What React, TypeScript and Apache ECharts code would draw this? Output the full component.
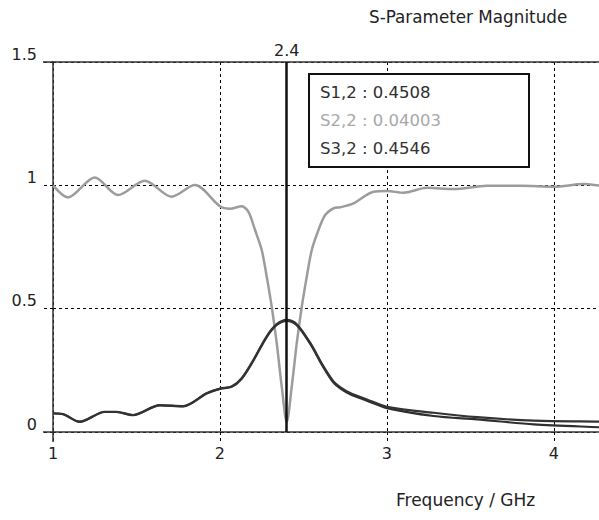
import React, { useEffect, useRef } from "react";
import * as echarts from "echarts";

// S2,2 (grey)
const s22Freq = [1.0, 1.09, 1.25, 1.39, 1.55, 1.71, 1.85, 2.0, 2.06, 2.13, 2.17, 2.21, 2.25, 2.28, 2.31, 2.34, 2.37, 2.4, 2.43, 2.46, 2.49, 2.52, 2.55, 2.59, 2.63, 2.68, 2.72, 2.8, 2.92, 3.0, 3.1, 3.24, 3.4, 3.6, 3.8, 4.0, 4.18, 4.3, 4.39];
const s22Val = [1.0, 0.951, 1.032, 0.961, 1.019, 0.954, 1.001, 0.915, 0.905, 0.915, 0.893, 0.819, 0.738, 0.63, 0.508, 0.36, 0.184, 0.04, 0.184, 0.36, 0.508, 0.63, 0.738, 0.819, 0.88, 0.907, 0.911, 0.927, 0.974, 0.977, 0.97, 0.99, 0.985, 0.998, 0.998, 0.994, 1.005, 0.998, 0.998];

// S1,2 and S3,2 (dark)
const darkFreq = [1.0, 1.06, 1.16, 1.31, 1.38, 1.48, 1.64, 1.78, 1.92, 2.0, 2.07, 2.13, 2.2, 2.28, 2.34, 2.4, 2.46, 2.54, 2.62, 2.68, 2.72, 2.78, 2.88, 3.0, 3.28, 3.54, 3.88, 4.28, 4.39];
const s32Val = [0.076, 0.073, 0.042, 0.082, 0.082, 0.069, 0.109, 0.105, 0.157, 0.176, 0.184, 0.218, 0.292, 0.388, 0.437, 0.4546, 0.437, 0.362, 0.266, 0.205, 0.182, 0.158, 0.132, 0.102, 0.078, 0.06, 0.046, 0.042, 0.041];
const s12Val = [0.075, 0.072, 0.041, 0.081, 0.081, 0.068, 0.108, 0.104, 0.156, 0.175, 0.183, 0.216, 0.289, 0.385, 0.434, 0.4508, 0.433, 0.358, 0.262, 0.2, 0.177, 0.153, 0.127, 0.097, 0.065, 0.051, 0.031, 0.019, 0.016];

const markerFreq = 2.4;
const legendNames = ["S1,2", "S2,2", "S3,2"];
const legendValues = ["0.4508", "0.04003", "0.4546"];
const xTicks = [1, 2, 3, 4];
const yTicks = [0, 0.5, 1, 1.5];

const FONT = "DejaVu Sans";
const DARK1 = "#2e2e2e";
const DARK3 = "#333333";
const GREY = "#9c9c9c";

export default function App() {
  const ref = useRef<HTMLDivElement>(null);
  useEffect(() => {
    if (!ref.current) return;
    const chart = echarts.init(ref.current, null, { renderer: "svg" });
    const pairs = (f: number[], v: number[]) => f.map((x, i) => [x, v[i]]);
    const dash = { type: [3, 3] as any, color: "#000", width: 1 };
    chart.setOption({
      animation: false,
      backgroundColor: "#fff",
      title: [
        {
          text: "S-Parameter Magnitude",
          left: 369,
          top: 8,
          padding: 0,
          textStyle: { fontFamily: FONT, fontSize: 16.8, fontWeight: "normal", color: "#222" },
        },
        {
          text: "Frequency / GHz",
          left: 396,
          top: 491,
          padding: 0,
          textStyle: { fontFamily: FONT, fontSize: 17, fontWeight: "normal", color: "#222" },
        },
      ],
      grid: { left: 53, top: 62, height: 370, width: 566, containLabel: false },
      xAxis: [
        {
          type: "value",
          min: 1,
          max: 4.39,
          interval: 1,
          axisLine: { show: true, lineStyle: { color: "#333", width: 1.5 } },
          axisTick: { show: true, length: 10, inside: false, lineStyle: dash },
          axisLabel: {
            margin: 13,
            fontFamily: FONT,
            fontSize: 16,
            color: "#222",
            formatter: (v: number) => (xTicks.includes(v) ? String(v) : ""),
          },
          splitLine: { show: true, lineStyle: dash },
        },
        {
          type: "value",
          position: "top",
          min: 1,
          max: 4.39,
          interval: 1,
          axisLine: { show: true, onZero: false, lineStyle: { color: "#333", width: 1.5 } },
          axisTick: { show: false },
          axisLabel: { show: false },
          splitLine: { show: false },
        },
      ],
      yAxis: {
        type: "value",
        min: 0,
        max: 1.5,
        interval: 0.5,
        axisLine: { show: true, lineStyle: { color: "#333", width: 1.5 } },
        axisTick: { show: true, length: 10, inside: false, lineStyle: dash },
        axisLabel: {
          margin: 16,
          fontFamily: FONT,
          fontSize: 16,
          color: "#222",
          verticalAlign: "bottom",
          lineHeight: 16,
          formatter: (v: number) => (yTicks.includes(v) ? String(v) : ""),
        },
        splitLine: { show: true, lineStyle: dash },
      },
      series: [
        {
          name: "S2,2",
          type: "line",
          data: pairs(s22Freq, s22Val),
          showSymbol: false,
          smooth: 0.3,
          lineStyle: { color: GREY, width: 2.5 },
          z: 3,
        },
        {
          name: "S1,2",
          type: "line",
          data: pairs(darkFreq, s12Val),
          showSymbol: false,
          smooth: 0.3,
          lineStyle: { color: DARK1, width: 2.2 },
          z: 4,
        },
        {
          name: "S3,2",
          type: "line",
          data: pairs(darkFreq, s32Val),
          showSymbol: false,
          smooth: 0.3,
          lineStyle: { color: DARK3, width: 2.2 },
          z: 4,
          markLine: {
            silent: true,
            symbol: ["none", "none"],
            lineStyle: { color: "#111", width: 2.5, type: "solid" },
            label: {
              show: true,
              position: "end",
              distance: 4,
              formatter: String(markerFreq),
              fontFamily: FONT,
              fontSize: 16,
              color: "#222",
            },
            data: [{ xAxis: markerFreq }],
          },
        },
      ],
    });

    // boundary tick extensions (solid) and legend box
    const x1 = chart.convertToPixel({ xAxisIndex: 0 }, 1) as number;
    const y0 = chart.convertToPixel({ yAxisIndex: 0 }, 0) as number;
    const yTop = chart.convertToPixel({ yAxisIndex: 0 }, 1.5) as number;
    const solid = { stroke: "#333", lineWidth: 1.5 };
    const legendColors = [DARK1, "#a8a8a8", DARK3];
    chart.setOption({
      graphic: [
        { type: "line", shape: { x1: x1, y1: y0, x2: x1, y2: y0 + 10 }, style: solid, z: 10 },
        { type: "line", shape: { x1: x1 - 10, y1: y0, x2: x1, y2: y0 }, style: solid, z: 10 },
        { type: "line", shape: { x1: x1 - 10, y1: yTop, x2: x1, y2: yTop }, style: solid, z: 10 },
        {
          type: "rect",
          shape: { x: 309, y: 74, width: 220, height: 93 },
          style: { fill: "#fff", stroke: "#111", lineWidth: 2 },
          z: 20,
        },
        ...legendNames.map((n, i) => ({
          type: "text",
          x: 320,
          y: 92 + i * 28,
          z: 21,
          style: {
            text: `${n} : ${legendValues[i]}`,
            fontFamily: FONT,
            fontSize: 16.5,
            fill: legendColors[i],
            verticalAlign: "middle",
            align: "left",
          },
        })),
      ],
    });
    return () => chart.dispose();
  }, []);
  return (
    <div
      style={{ position: "absolute", left: 0, top: 0, width: 599, height: 520, overflow: "hidden" }}
    >
      <div ref={ref} style={{ width: 660, height: 520 }} />
    </div>
  );
}
